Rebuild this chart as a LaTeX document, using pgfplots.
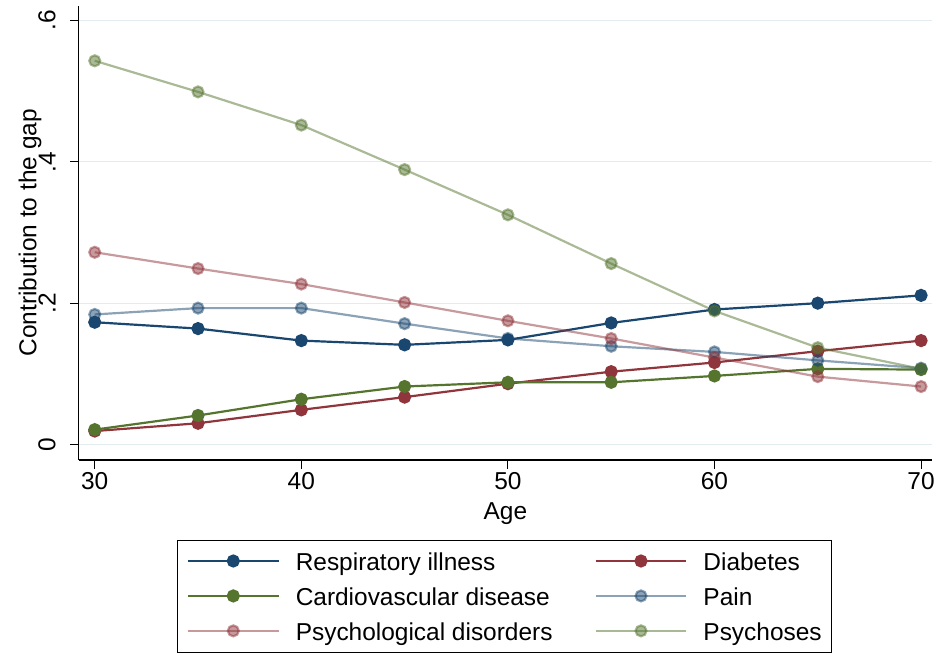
\documentclass[border=0pt]{standalone}
\usepackage{fontspec}
\setmainfont{Liberation Sans}
\usepackage{pgfplots}
\pgfplotsset{compat=1.18}

\definecolor{snavy}{RGB}{26,71,111}
\definecolor{smaroon}{RGB}{144,53,59}
\definecolor{sgreen}{RGB}{85,117,47}
\definecolor{gridc}{RGB}{226,236,240}

\newcommand{\bigfont}{\fontsize{24.5}{29}\selectfont}

\begin{document}
\begin{tikzpicture}[x=1pt,y=1pt]
\useasboundingbox (0,0) rectangle (936,655);
\begin{axis}[
  at={(79pt,194pt)}, anchor=south west,
  scale only axis, width=855pt, height=455.3pt,
  xmin=29.23, xmax=70.53, ymin=-0.022, ymax=0.621,
  axis x line*=bottom, axis y line*=left,
  axis line style={line width=1.1pt, black},
  tick align=outside, major tick length=9pt,
  tick style={line width=1.1pt, black},
  xtick={30,40,50,60,70},
  ytick={0,0.2,0.4,0.6}, yticklabels={0,.2,.4,.6},
  /pgf/number format/assume math mode=true,
  ymajorgrids, grid style={gridc, line width=1.3pt},
  tick label style={font=\bigfont},
  yticklabel style={rotate=90, anchor=south, inner sep=0pt, yshift=14pt},
  xticklabel style={anchor=north, inner sep=0pt, yshift=-3pt},
  xlabel={Age},
  ylabel={Contribution to the gap},
  every axis x label/.style={at={(axis description cs:0.5,0)}, anchor=center, yshift=-54pt, font=\bigfont},
  every axis y label/.style={at={(axis description cs:0,0.5)}, anchor=center, rotate=90, yshift=49pt, font=\bigfont},
  every axis plot/.append style={line width=2.2pt, mark=*, mark size=5.5pt},
  legend columns=2,
  legend cell align=left,
  legend image code/.code={%
    \draw[#1, mark=none, line width=2.2pt] (0pt,0pt) -- (91pt,0pt);
    \draw[#1, only marks] plot coordinates {(45.5pt,0pt)};},
  legend style={
    at={(axis description cs:0,0)}, anchor=north west, xshift=98pt, yshift=-80pt,
    draw=black, inner xsep=10pt, inner ysep=11pt,
    font=\bigfont,
    nodes={inner sep=0pt, text height=20pt, text depth=0pt},
    row sep=15pt,
    /tikz/every odd column/.append style={column sep=16pt},
    /tikz/every even column/.append style={column sep=42pt},
  },
]
% Respiratory illness
\addplot[snavy, mark options={fill=snavy, draw=none}] coordinates {
  (30,0.173) (35,0.164) (40,0.147) (45,0.141) (50,0.148) (55,0.172) (60,0.191) (65,0.200) (70,0.211)};
\addlegendentry{Respiratory illness}
% Diabetes
\addplot[smaroon, mark options={fill=smaroon, draw=none}] coordinates {
  (30,0.019) (35,0.030) (40,0.049) (45,0.067) (50,0.086) (55,0.103) (60,0.116) (65,0.132) (70,0.147)};
\addlegendentry{Diabetes}
% Cardiovascular disease
\addplot[sgreen, mark options={fill=sgreen, draw=none}] coordinates {
  (30,0.021) (35,0.041) (40,0.064) (45,0.082) (50,0.088) (55,0.088) (60,0.097) (65,0.107) (70,0.106)};
\addlegendentry{Cardiovascular disease}
% Pain
\addplot[snavy, opacity=0.5, mark options={fill=snavy, draw=none}] coordinates {
  (30,0.184) (35,0.193) (40,0.193) (45,0.171) (50,0.150) (55,0.139) (60,0.131) (65,0.119) (70,0.108)};
\addlegendentry{Pain}
% Psychological disorders
\addplot[smaroon, opacity=0.5, mark options={fill=smaroon, draw=none}] coordinates {
  (30,0.272) (35,0.249) (40,0.227) (45,0.201) (50,0.175) (55,0.150) (60,0.123) (65,0.096) (70,0.082)};
\addlegendentry{Psychological disorders}
% Psychoses
\addplot[sgreen, opacity=0.5, mark options={fill=sgreen, draw=none}] coordinates {
  (30,0.543) (35,0.499) (40,0.452) (45,0.389) (50,0.325) (55,0.256) (60,0.189) (65,0.137) (70,0.107)};
\addlegendentry{Psychoses}
\end{axis}
\end{tikzpicture}
\end{document}
